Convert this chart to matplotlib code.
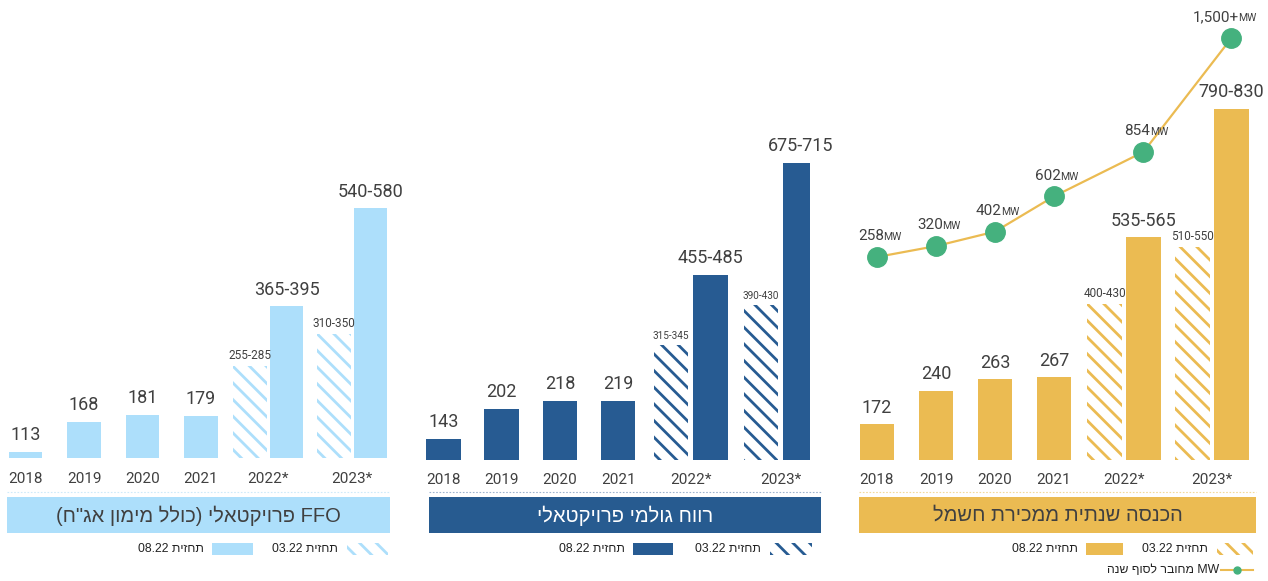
import re
import matplotlib
matplotlib.use("Agg")
import matplotlib.pyplot as plt
from matplotlib.patches import Rectangle
from matplotlib.lines import Line2D

# ---------------- data ----------------
years = ['2018', '2019', '2020', '2021', '2022*', '2023*']

ffo_actual = [113, 168, 181, 179]
ffo_f0322 = [270, 330]
ffo_f0322_lbl = ['255-285', '310-350']
ffo_f0822 = [380, 560]
ffo_f0822_lbl = ['365-395', '540-580']

gp_actual = [143, 202, 218, 219]
gp_f0322 = [330, 410]
gp_f0322_lbl = ['315-345', '390-430']
gp_f0822 = [470, 695]
gp_f0822_lbl = ['455-485', '675-715']

rev_actual = [172, 240, 263, 267]
rev_f0322 = [415, 530]
rev_f0322_lbl = ['400-430', '510-550']
rev_f0822 = [550, 810]
rev_f0822_lbl = ['535-565', '790-830']

mw_values = [258, 320, 402, 602, 854, 1500]
mw_labels = ['258', '320', '402', '602', '854', '1,500+']

titles = ['FFO פרויקטאלי (כולל מימון אג"ח)', 'רווח גולמי פרויקטאלי', 'הכנסה שנתית ממכירת חשמל']
leg_0322 = 'תחזית 03.22'
leg_0822 = 'תחזית 08.22'
leg_mw = 'MW מחובר לסוף שנה'

# ---------------- helpers ----------------
W, H = 1268, 581
HEB = ['Liberation Sans', 'DejaVu Sans']
NUM = ['Roboto', 'DejaVu Sans']
TXT = '#404040'


def vis(s):
    """Visual (right-to-left) order for Hebrew text."""
    toks = re.findall(r'[A-Za-z0-9][A-Za-z0-9.,+]*|.', s)
    mirror = {'(': ')', ')': '('}
    return ''.join(mirror.get(t, t) for t in toks[::-1])


def fx(x):
    return x / W


def fy(y):
    return 1 - y / H


plt.rcParams['hatch.linewidth'] = 2.0
fig = plt.figure(figsize=(W / 100, H / 100), dpi=100)

panels = [
    dict(actual=ffo_actual, f03=ffo_f0322, f03l=ffo_f0322_lbl, f08=ffo_f0822, f08l=ffo_f0822_lbl,
         color='#ADDFFB', box='#ADDFFB', tcolor=TXT, sep='#CFEAFA',
         base=458, c0=25.5, pitch=58.5, slope=0.545, v0=102,
         g22=4.15, g23=5.585, d=0.312, w=0.58, small=8.5,
         box_x=(7, 390), leg=(135, 212, 253, 269, 347, 388)),
    dict(actual=gp_actual, f03=gp_f0322, f03l=gp_f0322_lbl, f08=gp_f0822, f08l=gp_f0822_lbl,
         color='#275B92', box='#275B90', tcolor='white', sep='#9DB3CF',
         base=460, c0=443.5, pitch=58.2, slope=0.5, v0=100,
         g22=4.248, g23=5.795, d=0.339, w=0.593, small=7.2,
         box_x=(429, 821), leg=(553, 633, 673, 693, 770, 812)),
    dict(actual=rev_actual, f03=rev_f0322, f03l=rev_f0322_lbl, f08=rev_f0822, f08l=rev_f0822_lbl,
         color='#EBBB52', box='#EBBB52', tcolor=TXT, sep='#F3D89A',
         base=460, c0=877, pitch=59, slope=0.495, v0=100,
         g22=4.186, g23=5.678, d=0.33, w=0.585, small=8.5,
         box_x=(859, 1256), leg=(1008, 1086, 1123, 1140, 1217, 1253)),
]

XL = (-0.35, 6.3)
axes = []
for i, p in enumerate(panels):
    left = p['c0'] + XL[0] * p['pitch']
    width = (XL[1] - XL[0]) * p['pitch']
    ax = fig.add_axes([fx(left), fy(p['base']), width / W, p['base'] / H])
    axes.append(ax)
    ax.set_xlim(*XL)
    ax.set_ylim(p['v0'], p['v0'] + p['base'] / p['slope'])
    for s in ax.spines.values():
        s.set_visible(False)
    ax.set_yticks([])
    ax.patch.set_alpha(0)

    xa = [0, 1, 2, 3]
    ax.bar(xa, p['actual'], width=p['w'], color=p['color'], linewidth=0)
    for x, v in zip(xa, p['actual']):
        ax.annotate(str(v), (x, v), xytext=(0, 5.5), textcoords='offset points',
                    ha='center', va='bottom', fontsize=13, color=TXT, family=NUM)

    x03 = [p['g22'] - p['d'], p['g23'] - p['d']]
    x08 = [p['g22'] + p['d'], p['g23'] + p['d']]
    ax.bar(x03, p['f03'], width=p['w'], facecolor='white', edgecolor=p['color'],
           hatch='\\\\', linewidth=0)
    ax.bar(x08, p['f08'], width=p['w'], color=p['color'], linewidth=0)
    for x, v, l in zip(x03, p['f03'], p['f03l']):
        ax.annotate(l, (x, v), xytext=(0, 3), textcoords='offset points',
                    ha='center', va='bottom', fontsize=p['small'], color=TXT, family=NUM)
    for x, v, l in zip(x08, p['f08'], p['f08l']):
        ax.annotate(l, (x, v), xytext=(0, 5.5), textcoords='offset points',
                    ha='center', va='bottom', fontsize=13, color=TXT, family=NUM)

    ax.set_xticks([0, 1, 2, 3, p['g22'], p['g23']])
    ax.set_xticklabels(years, fontsize=11, color=TXT, family=NUM)
    ax.tick_params(axis='x', length=0, pad=10 if i == 0 else 9)

    # separator and title box
    bx0, bx1 = p['box_x']
    fig.add_artist(Line2D([fx(bx0), fx(bx1)], [fy(492), fy(492)], color=p['sep'],
                          lw=0.8, ls=(0, (1.5, 1.5))))
    fig.add_artist(Rectangle((fx(bx0), fy(533)), (bx1 - bx0) / W, 36 / H,
                             facecolor=p['box'], edgecolor='none'))
    fig.text(fx((bx0 + bx1) / 2), fy(515.5), vis(titles[i]), ha='center', va='center',
             fontsize=14.5, color=p['tcolor'], family=HEB)

    # legend
    t08r, s0, s1, t03r, h0, h1 = p['leg']
    fig.text(fx(s0 - 8), fy(549), vis(leg_0822), ha='right', va='center',
             fontsize=8.8, color='#222222', family=HEB)
    fig.add_artist(Rectangle((fx(s0), fy(555)), (s1 - s0) / W, 12 / H,
                             facecolor=p['color'], edgecolor='none'))
    fig.text(fx(h0 - 9), fy(549), vis(leg_0322), ha='right', va='center',
             fontsize=8.8, color='#222222', family=HEB)
    fig.add_artist(Rectangle((fx(h0), fy(555)), (h1 - h0) / W, 12 / H,
                             facecolor='white', edgecolor=p['color'], hatch='\\\\', linewidth=0))

# MW line on the third panel
p = panels[2]
ax3 = axes[2]
tw = ax3.twinx()
tw.set_ylim(258 - (460 - 257) / 0.1763, 258 + 257 / 0.1763)
tw.set_yticks([])
for s in tw.spines.values():
    s.set_visible(False)
xmw = [0, 1, 2, 3, p['g22'] + p['d'], p['g23'] + p['d']]
tw.plot(xmw, mw_values, color='#EBBB52', lw=1.6, marker='o', ms=14,
        markerfacecolor='#45B17E', markeredgecolor='#45B17E', zorder=3)
for x, v, l in zip(xmw, mw_values, mw_labels):
    tw.annotate(l, (x, v), xytext=(5, 12), textcoords='offset points', ha='right',
                va='baseline', fontsize=11, color=TXT, family=NUM)
    tw.annotate('MW', (x, v), xytext=(4.6, 12), textcoords='offset points', ha='left',
                va='baseline', fontsize=7.5, color=TXT, family=NUM)

# MW legend item
fig.add_artist(Line2D([fx(1221), fx(1253)], [fy(570), fy(570)], color='#EBBB52', lw=1.5))
fig.add_artist(Line2D([fx(1237)], [fy(570)], color='#45B17E', marker='o', ms=5, lw=0))
fig.text(fx(1219), fy(570), vis(leg_mw), ha='right', va='center', fontsize=8.8,
         color='#222222', family=HEB)

fig.savefig('out.png', dpi=100)
